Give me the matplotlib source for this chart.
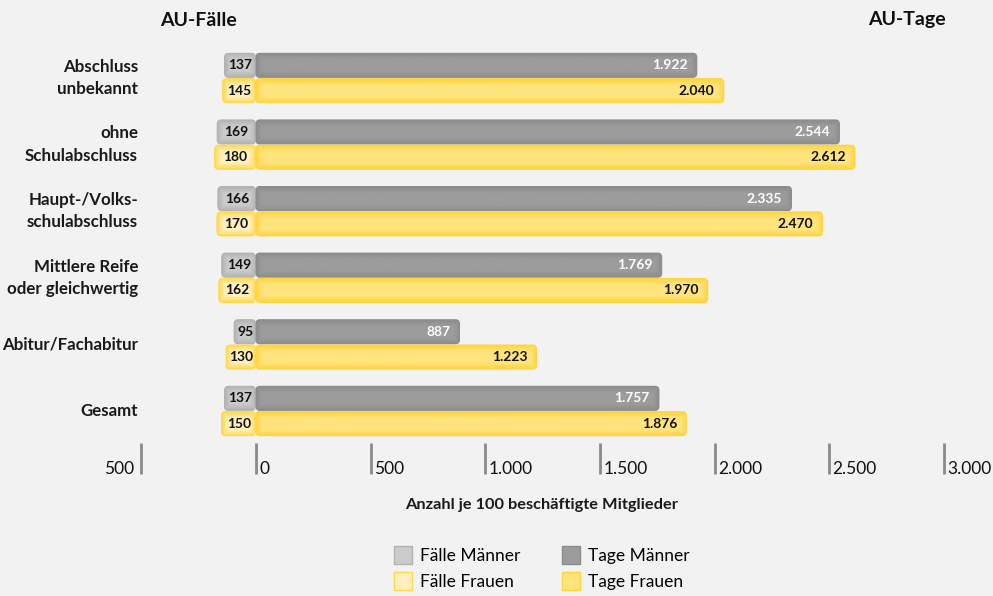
import matplotlib
matplotlib.use("Agg")
import matplotlib.pyplot as plt
import matplotlib.transforms as mtransforms
import numpy as np
from matplotlib.colors import to_rgb
from matplotlib.lines import Line2D
from matplotlib.patches import FancyBboxPatch

categories = [
    "Abschluss\nunbekannt",
    "ohne\nSchulabschluss",
    "Haupt-/Volks-\nschulabschluss",
    "Mittlere Reife\noder gleichwertig",
    "Abitur/Fachabitur",
    "Gesamt",
]
faelle_maenner = [137, 169, 166, 149, 95, 137]
faelle_frauen = [145, 180, 170, 162, 130, 150]
tage_maenner = [1922, 2544, 2335, 1769, 887, 1757]
tage_frauen = [2040, 2612, 2470, 1970, 1223, 1876]
tick_values = [-500, 0, 500, 1000, 1500, 2000, 2500, 3000]
tick_labels = ["500", "0", "500", "1.000", "1.500", "2.000", "2.500", "3.000"]

BG = "#f2f2f2"
# (centre, edge) colours of the glossy bars
C_FM = ("#cbcbcb", "#b2b2b2")
C_FF = ("#fff0bd", "#ffd84a")
C_TM = ("#9c9c9c", "#8c8c8c")
C_TF = ("#ffe37c", "#ffd43c")

FONT = dict(family=["Lato", "DejaVu Sans"])

W, H = 993, 596
fig = plt.figure(figsize=(W / 100, H / 100), dpi=100, facecolor=BG)
ax = fig.add_axes([0, 0, 1, 1])
ax.set_facecolor(BG)
ax.axis("off")

# pixel geometry -> data limits
x0_px, px_per_unit = 256, 0.2293
y0_px, px_per_group = 78, 66.6
xlim = (-x0_px / px_per_unit, (W - x0_px) / px_per_unit)
ylim = ((H - y0_px) / px_per_group, -y0_px / px_per_group)
ax.set_xlim(*xlim)
ax.set_ylim(*ylim)
aspect = (1 / px_per_group) / (1 / px_per_unit)

n = len(categories)
idx = list(range(n))
h = 0.36
off = 0.19
gap = 2.5


def rounded(bars, colors):
    centre, edge = np.array(to_rgb(colors[0])), np.array(to_rgb(colors[1]))
    for r in bars:
        x, w = r.get_x(), r.get_width()
        if w < 0:
            x, w = x + w, -w
        y, hh = r.get_y(), r.get_height()
        p = FancyBboxPatch((x, y), w, hh, boxstyle="round,pad=0,rounding_size=17",
                           mutation_aspect=aspect, fc=edge, ec=edge, lw=0.8)
        r.remove()
        ax.add_patch(p)
        # soft inner glow: darker towards the edges
        wp, hp = max(int(w * px_per_unit), 2), max(int(hh * px_per_group), 2)
        xx = np.arange(wp) + 0.5
        yy = np.arange(hp) + 0.5
        dx = np.minimum(xx, wp - xx)[None, :]
        dy = np.minimum(yy, hp - yy)[:, None]
        d = np.minimum(dx, dy)
        t = np.clip(d / 6.0, 0, 1)[..., None]
        img = edge + (centre - edge) * t
        im = ax.imshow(img, extent=(x, x + w, y + hh, y), aspect="auto",
                       interpolation="bilinear", zorder=p.get_zorder() + 0.1)
        im.set_clip_path(p)


rounded(ax.barh([i - off for i in idx], [-(v) + gap for v in faelle_maenner],
                left=-gap, height=h), C_FM)
rounded(ax.barh([i + off for i in idx], [-(v) + gap for v in faelle_frauen],
                left=-gap, height=h), C_FF)
rounded(ax.barh([i - off for i in idx], tage_maenner, height=h), C_TM)
rounded(ax.barh([i + off for i in idx], tage_frauen, height=h), C_TF)
ax.set_xlim(*xlim)
ax.set_ylim(*ylim)


def de(v):
    return f"{v:,}".replace(",", ".")


for i in idx:
    ax.text(-faelle_maenner[i] / 2, i - off, str(faelle_maenner[i]), ha="center",
            va="center", fontsize=10, fontweight="bold", color="#111111", zorder=5, **FONT)
    ax.text(-faelle_frauen[i] / 2, i + off, str(faelle_frauen[i]), ha="center",
            va="center", fontsize=10, fontweight="bold", color="#111111", zorder=5, **FONT)
    ax.text(tage_maenner[i] - 40, i - off, de(tage_maenner[i]), ha="right",
            va="center", fontsize=10, fontweight="bold", color="white", zorder=5, **FONT)
    ax.text(tage_frauen[i] - 40, i + off, de(tage_frauen[i]), ha="right",
            va="center", fontsize=10, fontweight="bold", color="#111111", zorder=5, **FONT)

# category labels
trans = mtransforms.blended_transform_factory(fig.transFigure, ax.transData)
for i, c in enumerate(categories):
    ax.text(138 / W, i, c, transform=trans, ha="right", va="center",
            fontsize=12.2, fontweight="bold", color="#1a1a1a", linespacing=1.5, **FONT)

# axis ticks
y_top = (443 - y0_px) / px_per_group
y_bot = (474 - y0_px) / px_per_group
ax.vlines(tick_values, y_top, y_bot, color="#8a8a8a", lw=2)
for v, lab in zip(tick_values, tick_labels):
    if v < 0:
        ax.text(v - 30, y_bot, lab, ha="right", va="baseline", fontsize=12.5,
                color="#111111", **FONT)
    else:
        ax.text(v + 15, y_bot, lab, ha="left", va="baseline", fontsize=12.5,
                color="#111111", **FONT)

fig.text(542 / W, 1 - 505 / H, "Anzahl je 100 beschäftigte Mitglieder", ha="center",
         va="center", fontsize=11.8, fontweight="bold", color="#1a1a1a", **FONT)
fig.text(198 / W, 1 - 20 / H, "AU-Fälle", ha="center", va="center",
         fontsize=14, fontweight="bold", color="#111111", **FONT)
fig.text(907 / W, 1 - 20 / H, "AU-Tage", ha="center", va="center",
         fontsize=14, fontweight="bold", color="#111111", **FONT)

handles = [
    Line2D([], [], ls="", marker="s", ms=13.5, mfc=C_FM[0], mec=C_FM[1], label="Fälle Männer"),
    Line2D([], [], ls="", marker="s", ms=13.5, mfc=C_FF[0], mec=C_FF[1], label="Fälle Frauen"),
    Line2D([], [], ls="", marker="s", ms=13.5, mfc=C_TM[0], mec=C_TM[1], label="Tage Männer"),
    Line2D([], [], ls="", marker="s", ms=13.5, mfc=C_TF[0], mec=C_TF[1], label="Tage Frauen"),
]
fig.legend(handles=handles, ncol=2, loc="center", bbox_to_anchor=(542 / W, 1 - 569 / H),
           frameon=False, prop=dict(size=12.5, **FONT), handletextpad=0.5,
           columnspacing=2.4, labelspacing=0.6, handlelength=1.0)

fig.savefig("out.png", dpi=100, facecolor=BG)
